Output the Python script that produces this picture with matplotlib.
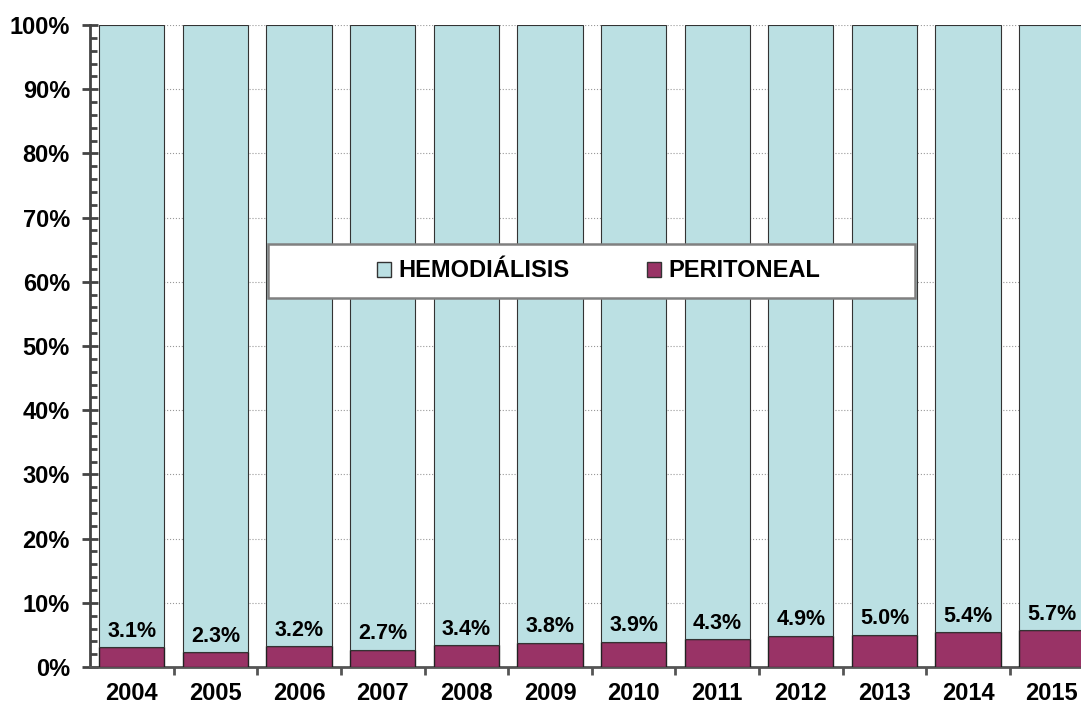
import matplotlib.pyplot as plt
from matplotlib.patches import Patch, Rectangle
from matplotlib.ticker import MultipleLocator, FixedLocator, PercentFormatter

plt.rcParams['font.family'] = ['Liberation Sans', 'DejaVu Sans']

years = ['2004', '2005', '2006', '2007', '2008', '2009', '2010', '2011', '2012', '2013', '2014', '2015']
peritoneal = [3.1, 2.3, 3.2, 2.7, 3.4, 3.8, 3.9, 4.3, 4.9, 5.0, 5.4, 5.7]
hemodialisis = [100 - p for p in peritoneal]

teal = '#BBE0E3'
maroon = '#993366'

fig = plt.figure(figsize=(10.81, 7.06), dpi=100)
ax = fig.add_axes([0.0833, 0.0552, 0.9167, 0.9094])

x = list(range(len(years)))
ax.bar(x, peritoneal, width=0.78, color=maroon, edgecolor='#222222', linewidth=1.0, zorder=3)
ax.bar(x, hemodialisis, width=0.78, bottom=peritoneal, color=teal, edgecolor='#333333',
       linewidth=0.8, zorder=3)

for xi, p in zip(x, peritoneal):
    ax.annotate(f'{p:.1f}%', (xi, p), xytext=(0, 4), textcoords='offset points',
                ha='center', va='bottom', fontsize=15.5, fontweight='bold', zorder=5)

ax.set_xlim(-0.5, 11.35)
ax.set_ylim(0, 100)

ax.yaxis.set_major_locator(MultipleLocator(10))
ax.yaxis.set_minor_locator(MultipleLocator(2))
ax.yaxis.set_major_formatter(PercentFormatter(decimals=0))
ax.grid(axis='y', which='major', color='#999999', linestyle=':', linewidth=0.8, zorder=0)

ax.set_xticks(x)
ax.set_xticklabels(years)
ax.xaxis.set_minor_locator(FixedLocator([i + 0.5 for i in range(len(years))]))
ax.tick_params(axis='x', which='major', length=0, pad=11)
ax.tick_params(axis='x', which='minor', direction='out', length=6, width=2, color='#555555')
ax.tick_params(axis='y', which='major', direction='inout', length=11, width=2, color='#444444', pad=9)
ax.tick_params(axis='y', which='minor', direction='in', length=5, width=2, color='#444444')

for lbl in ax.get_xticklabels():
    lbl.set_fontsize(17)
    lbl.set_fontweight('bold')
for lbl in ax.get_yticklabels():
    lbl.set_fontsize(17)
    lbl.set_fontweight('bold')

for side in ['top', 'right']:
    ax.spines[side].set_visible(False)
ax.spines['left'].set_color('#444444')
ax.spines['left'].set_linewidth(2)
ax.spines['bottom'].set_color('#555555')
ax.spines['bottom'].set_linewidth(2)

# legend box
box = Rectangle((0.1796, 0.5748), 0.653, 0.0842, transform=ax.transAxes,
                facecolor='white', edgecolor='#808080', linewidth=1.8, zorder=9)
ax.add_patch(box)
handles = [Patch(facecolor=teal, edgecolor='#333333', label='HEMODIÁLISIS'),
           Patch(facecolor=maroon, edgecolor='#333333', label='PERITONEAL')]
leg = ax.legend(handles=handles, loc='center', bbox_to_anchor=(0.513, 0.6169),
                ncol=2, frameon=False, columnspacing=3.3,
                handlelength=0.6, handleheight=0.6, handletextpad=0.3,
                prop={'weight': 'bold', 'size': 17})
leg.set_zorder(10)

fig.savefig('out.png', dpi=100)
